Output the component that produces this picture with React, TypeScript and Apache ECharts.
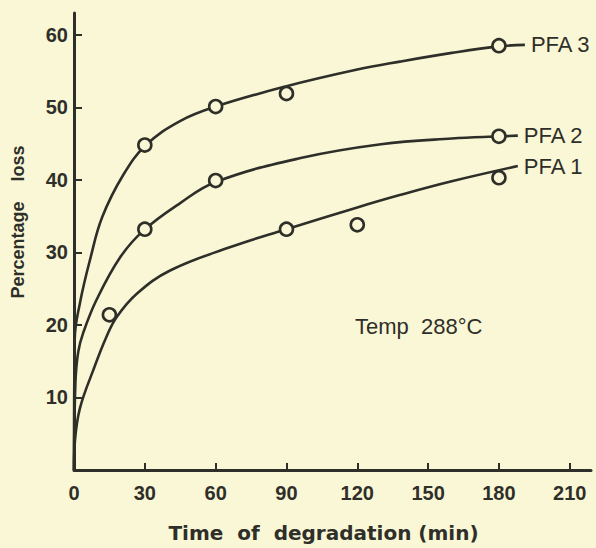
import React, { useEffect, useRef } from 'react';
import * as echarts from 'echarts';

// Axis tick values
const xTickValues = [0, 30, 60, 90, 120, 150, 180, 210];
const yTickValues = [10, 20, 30, 40, 50, 60];

// Fitted curves: [time (min), percentage loss]
const pfa3Curve = [[0, 0], [0.3, 18], [2.5, 23], [6.8, 29], [12, 34.9], [20.9, 40.7], [30.5, 44.8], [44.9, 48.1], [60, 50.1], [90, 52.9], [120, 55.2], [138, 56.3], [160, 57.5], [180, 58.4], [191, 58.6]];
const pfa2Curve = [[0, 0], [0.6, 12], [1.8, 16.3], [4, 19.0], [9.6, 23.5], [19.5, 29.3], [29.4, 33.0], [45, 36.8], [60, 39.7], [96, 43.0], [130, 44.9], [160, 45.7], [181, 46.0], [188, 46.1]];
const pfa1Curve = [[0, 0], [0.4, 4], [2.5, 8.5], [8.2, 13.8], [13.8, 18.4], [18.1, 21.1], [26.6, 24.3], [40.7, 27.5], [66, 30.7], [90, 33.2], [120, 36.2], [138, 37.9], [160, 39.8], [188, 41.9]];

// Measured points (open circles)
const pfa3Points = [[30, 44.8], [60, 50.1], [90, 51.9], [180, 58.5]];
const pfa2Points = [[30, 33.2], [60, 39.9], [180, 46.0]];
const pfa1Points = [[15, 21.4], [90, 33.2], [120, 33.8], [180, 40.3]];

const seriesNames = ['PFA 3', 'PFA 2', 'PFA 1'];
const annotation = 'Temp\u00a0\u00a0288°C';
const xName = 'Time\u00a0\u00a0of\u00a0\u00a0degradation\u00a0(min)';
const yName = 'Percentage\u00a0\u00a0\u00a0\u00a0loss';

const BG = '#faf7d6';
const INK = '#2f2f29';

export default function App() {
  const ref = useRef<HTMLDivElement>(null);
  useEffect(() => {
    if (!ref.current) return;
    document.body.style.margin = '0';
    document.body.style.background = BG;
    const chart = echarts.init(ref.current, null, { renderer: 'svg' });
    const curves = [pfa3Curve, pfa2Curve, pfa1Curve];
    const points = [pfa3Points, pfa2Points, pfa1Points];
    const lineSeries = curves.map((c, i) => ({
      type: 'line',
      name: seriesNames[i],
      data: c,
      showSymbol: false,
      smooth: 0.4,
      lineStyle: { color: INK, width: 2.6 },
      endLabel: {
        show: true,
        formatter: seriesNames[i],
        distance: 6,
        color: INK,
        fontFamily: 'Liberation Sans',
        fontSize: 22,
        align: 'left',
        verticalAlign: 'middle',
      },
      z: 2,
    }));
    const pointSeries = points.map((p, i) => ({
      type: 'scatter',
      name: seriesNames[i] + ' data',
      data: p,
      symbol: 'circle',
      symbolSize: 13,
      itemStyle: { color: BG, borderColor: INK, borderWidth: 2.6, opacity: 1 },
      z: 3,
    }));
    chart.setOption({
      animation: false,
      backgroundColor: BG,
      grid: { left: 74, right: 5, top: 13, bottom: 74, containLabel: false },
      xAxis: {
        type: 'value',
        min: 0,
        max: 219,
        name: xName,
        nameLocation: 'middle',
        nameGap: 53,
        nameTextStyle: { color: INK, fontFamily: 'DejaVu Sans', fontWeight: 'bold', fontSize: 20, padding: [0, 18, 0, 0] },
        axisLine: { show: true, lineStyle: { color: INK, width: 3 } },
        axisTick: { show: true, inside: true, length: 7, lineStyle: { color: INK, width: 2 }, customValues: xTickValues.slice(1) },
        axisLabel: { show: true, customValues: xTickValues, margin: 13, color: INK, fontFamily: 'Liberation Sans', fontWeight: 'bold', fontSize: 20 },
        splitLine: { show: false },
      },
      yAxis: {
        type: 'value',
        min: 0,
        max: 63,
        axisLine: { show: true, lineStyle: { color: INK, width: 3 } },
        axisTick: { show: true, inside: true, length: 8, lineStyle: { color: INK, width: 2 }, customValues: yTickValues },
        axisLabel: { show: true, customValues: yTickValues, margin: 6, color: INK, fontFamily: 'Liberation Sans', fontWeight: 'bold', fontSize: 20 },
        splitLine: { show: false },
      },
      graphic: [
        {
          type: 'text',
          x: 18,
          y: 222,
          rotation: Math.PI / 2,
          style: { text: yName, fill: INK, font: 'bold 18px "Liberation Sans"', align: 'center', verticalAlign: 'middle' },
        },
        {
          type: 'text',
          left: 355,
          top: 315,
          style: { text: annotation, fill: INK, font: '22px "Liberation Sans"' },
        },
      ],
      series: [...lineSeries, ...pointSeries],
    });
    return () => chart.dispose();
  }, []);
  return <div ref={ref} style={{ position: 'fixed', left: 0, top: 0, width: 596, height: 548, background: BG }} />;
}
